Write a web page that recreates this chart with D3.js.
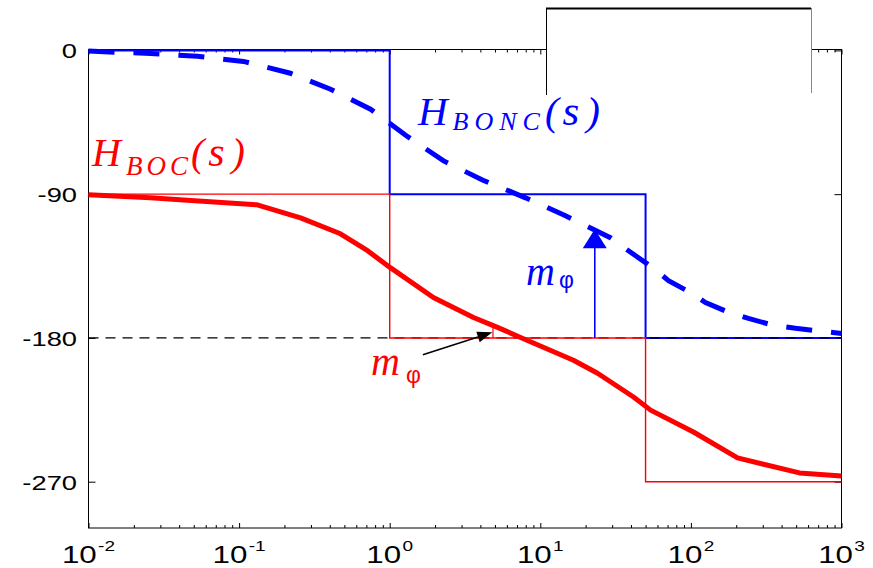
<!DOCTYPE html>
<html>
<head>
<meta charset="utf-8">
<script src="https://cdn.jsdelivr.net/npm/d3@7"></script>
<style>
  html, body { margin: 0; padding: 0; background: #fff; }
  svg { display: block; }
</style>
</head>
<body>
<svg id="chart" width="873" height="568"></svg>
<script>
// Open-loop phase H_BOC(s): frequency (rad/s) and phase (deg)
const bocFreq  = [0.01, 0.0258, 0.0428, 0.132, 0.256, 0.471, 0.713, 1.01, 1.95, 3.60,
                  5.20, 7.40, 16.6, 24.0, 41.6, 54.0, 104, 204, 526, 1000];
const bocPhase = [-90.4, -92.3, -93.6, -96.7, -104.8, -114.8, -125.4, -136.0, -154.7, -167.2,
                  -173.4, -179.7, -194.0, -202.1, -217.0, -225.2, -238.9, -255.1, -264.5, -266.4];

// Closed-loop phase H_BONC(s)
const boncFreq  = [0.01, 0.0156, 0.0258, 0.053, 0.107, 0.219, 0.405, 0.746, 1.27, 2.28,
                   4.13, 7.98, 14.7, 29.2, 40.9, 55.6, 71.0, 99.3, 125, 178,
                   241, 353, 495, 748, 1000];
const boncPhase = [-0.3, -1.2, -1.9, -3.7, -6.9, -14.3, -24.3, -36.8, -53.0, -69.2,
                   -81.1, -92.3, -103.5, -117.3, -127.2, -135.9, -144.1, -151.6, -157.8, -164.0,
                   -167.8, -172.1, -174.0, -175.9, -177.2];

// Straight-line (asymptotic) phase approximations
const bocAsymFreq   = [0.01, 1, 1, 50, 50, 1000];
const bocAsymPhase  = [-90, -90, -180, -180, -270, -270];
const boncAsymFreq  = [0.01, 1, 1, 50, 50, 1000];
const boncAsymPhase = [0, 0, -90, -90, -180, -180];

// Phase-margin markers: frequency and [from, to] phase
const marginBocFreq   = 4.85;
const marginBocPhase  = [-180, -173];
const marginBoncFreq  = 23;
const marginBoncPhase = [-180, -112];

// Reference level
const refPhase = -180;

// Axis ticks
const xTickExponents = [-2, -1, 0, 1, 2, 3];
const yTickValues = [0, -90, -180, -270];
const yTickLabels = ["0", "-90", "-180", "-270"];

// ---------------------------------------------------------------
const svg = d3.select("#chart");
const frame = { left: 88.5, right: 841.5, top: 49.5, bottom: 528 };

const x = d3.scaleLog().domain([0.01, 1000]).range([frame.left, frame.right]);
const y = d3.scaleLinear().domain([-270, 0]).range([481.7, 50.4]);

const zip = (fs, ps) => fs.map((f, i) => [f, ps[i]]);
const line = d3.line().x(d => x(d[0])).y(d => y(d[1])).curve(d3.curveLinear);

// ---- axes: frame and inward ticks on all four sides
const majorX = xTickExponents.map(e => Math.pow(10, e));
const minorX = [];
xTickExponents.slice(0, -1).forEach(e => {
  for (let k = 2; k <= 9; k++) minorX.push(k * Math.pow(10, e));
});

function tickAxis(axis, transform) {
  const g = svg.append("g").attr("transform", transform).call(axis);
  g.select(".domain").remove();
  g.selectAll("line").attr("stroke", "#000").attr("stroke-width", 1);
  return g;
}
tickAxis(d3.axisBottom(x).tickValues(majorX).tickSize(-5).tickFormat(""), `translate(0,${frame.bottom})`);
tickAxis(d3.axisBottom(x).tickValues(minorX).tickSize(-3).tickFormat(""), `translate(0,${frame.bottom})`);
tickAxis(d3.axisTop(x).tickValues(majorX).tickSize(-5).tickFormat(""), `translate(0,${frame.top})`);
tickAxis(d3.axisTop(x).tickValues(minorX).tickSize(-3).tickFormat(""), `translate(0,${frame.top})`);
tickAxis(d3.axisLeft(y).tickValues(yTickValues).tickSize(-7).tickFormat(""), `translate(${frame.left},0)`);
tickAxis(d3.axisRight(y).tickValues(yTickValues).tickSize(-7).tickFormat(""), `translate(${frame.right},0)`);

svg.append("rect")
  .attr("x", frame.left).attr("y", frame.top)
  .attr("width", frame.right - frame.left).attr("height", frame.bottom - frame.top)
  .attr("fill", "none").attr("stroke", "#000").attr("stroke-width", 1);

// y tick labels (wide sans digits)
svg.append("g").selectAll("text").data(yTickValues).join("text")
  .attr("transform", d => `translate(77,${y(d) + 8}) scale(1.3,1)`)
  .attr("text-anchor", "end")
  .attr("font-family", "Liberation Sans, Arial, sans-serif")
  .attr("font-size", 21)
  .attr("fill", "#000")
  .text((d, i) => yTickLabels[i]);

// x tick labels: powers of ten
const xl = svg.append("g").selectAll("text").data(xTickExponents).join("text")
  .attr("transform", d => `translate(${x(Math.pow(10, d))},563) scale(1.36,1)`)
  .attr("text-anchor", "middle")
  .attr("font-family", "Liberation Sans, Arial, sans-serif")
  .attr("fill", "#000");
xl.append("tspan").attr("font-size", 23).text("10");
xl.append("tspan").attr("font-size", 14).attr("dy", -12).attr("dx", 1).text(d => String(d));

// ---- asymptotic steps and the -180 reference
svg.append("path").datum(zip(boncAsymFreq, boncAsymPhase))
  .attr("d", line).attr("fill", "none").attr("stroke", "#0000ff").attr("stroke-width", 2);

svg.append("line")
  .attr("x1", frame.left).attr("x2", frame.right)
  .attr("y1", y(refPhase)).attr("y2", y(refPhase))
  .attr("stroke", "#000").attr("stroke-width", 1.2).attr("stroke-dasharray", "10,7");

svg.append("path").datum(zip(bocAsymFreq, bocAsymPhase))
  .attr("d", line).attr("fill", "none").attr("stroke", "#ff0000").attr("stroke-width", 1.4);

// ---- exact phase curves
svg.append("path").datum(zip(bocFreq, bocPhase))
  .attr("d", line).attr("fill", "none").attr("stroke", "#ff0000")
  .attr("stroke-width", 5).attr("stroke-linejoin", "round");

svg.append("path").datum(zip(boncFreq, boncPhase))
  .attr("d", line).attr("fill", "none").attr("stroke", "#0000ff")
  .attr("stroke-width", 5).attr("stroke-dasharray", "26,19");

// ---- phase-margin markers
// open loop: small red segment up to the curve
svg.append("line")
  .attr("x1", x(marginBocFreq)).attr("x2", x(marginBocFreq))
  .attr("y1", y(marginBocPhase[0])).attr("y2", y(marginBocPhase[1]))
  .attr("stroke", "#ff0000").attr("stroke-width", 1.2);

// closed loop: blue arrow
{
  const ax = x(marginBoncFreq);
  const tip = y(marginBoncPhase[1]);
  const headLen = 19, headHalf = 12;
  svg.append("line")
    .attr("x1", ax).attr("x2", ax)
    .attr("y1", y(marginBoncPhase[0])).attr("y2", tip + headLen - 1)
    .attr("stroke", "#0000ff").attr("stroke-width", 1.6);
  svg.append("path")
    .attr("d", `M${ax},${tip} L${ax + headHalf},${tip + headLen} L${ax - headHalf},${tip + headLen} Z`)
    .attr("fill", "#0000ff");
}

// black pointer from the red label to the margin segment
{
  const x0 = x(1.66), y0 = y(-190.5), x1 = x(4.8), y1 = y(-176.5);
  const ang = Math.atan2(y1 - y0, x1 - x0);
  const len = 15, half = 5.5;
  const bx = x1 - len * Math.cos(ang), by = y1 - len * Math.sin(ang);
  const px = -Math.sin(ang) * half, py = Math.cos(ang) * half;
  svg.append("line").attr("x1", x0).attr("y1", y0).attr("x2", bx).attr("y2", by)
    .attr("stroke", "#000").attr("stroke-width", 1.5);
  svg.append("path")
    .attr("d", `M${x1},${y1} L${bx + px},${by + py} L${bx - px},${by - py} Z`)
    .attr("fill", "#000");
}

// ---- labels
function transferLabel(px, py, sub, color, hSize, subSize, subDy, spacing, parenGap) {
  const t = svg.append("text").attr("x", px).attr("y", py)
    .attr("fill", color)
    .attr("font-family", "Liberation Serif, Times New Roman, serif")
    .attr("font-style", "italic");
  t.append("tspan").attr("font-size", hSize).text("H");
  t.append("tspan").attr("font-size", subSize).attr("dx", 5).attr("dy", subDy)
    .attr("letter-spacing", spacing).text(sub);
  t.append("tspan").attr("font-size", hSize).attr("dy", -subDy).attr("dx", parenGap - spacing)
    .attr("letter-spacing", 0).text("(");
  t.append("tspan").attr("font-size", hSize + 2).attr("dx", 4).text("s");
  t.append("tspan").attr("font-size", hSize).attr("dx", 7).text(")");
}
transferLabel(92, 166, "BOC", "#ff0000", 40, 27, 9, 4, 3);
transferLabel(418, 125, "BONC", "#0000ff", 41, 26, 5, 6, 5);

function marginLabel(px, py, color, phiDy, gap) {
  const t = svg.append("text").attr("x", px).attr("y", py).attr("fill", color);
  t.append("tspan")
    .attr("font-family", "Liberation Serif, Times New Roman, serif")
    .attr("font-style", "italic").attr("font-size", 40).text("m");
  t.append("tspan")
    .attr("font-family", "Liberation Sans, Arial, sans-serif")
    .attr("font-size", 23).attr("dx", gap).attr("dy", phiDy).text("φ");
}
marginLabel(371, 375, "#ff0000", 8, 6);
marginLabel(526, 285, "#0000ff", 3, 4);

// ---- empty legend frame above the axes
svg.append("rect").attr("x", 546).attr("y", 8).attr("width", 265).attr("height", 87)
  .attr("fill", "#fff");
svg.append("line").attr("x1", 546).attr("x2", 811).attr("y1", 8.5).attr("y2", 8.5)
  .attr("stroke", "#000").attr("stroke-width", 2);
svg.append("line").attr("x1", 546.5).attr("x2", 546.5).attr("y1", 8).attr("y2", 95)
  .attr("stroke", "#000").attr("stroke-width", 1);
svg.append("line").attr("x1", 811.5).attr("x2", 811.5).attr("y1", 8).attr("y2", 93)
  .attr("stroke", "#888").attr("stroke-width", 1);
</script>
</body>
</html>
